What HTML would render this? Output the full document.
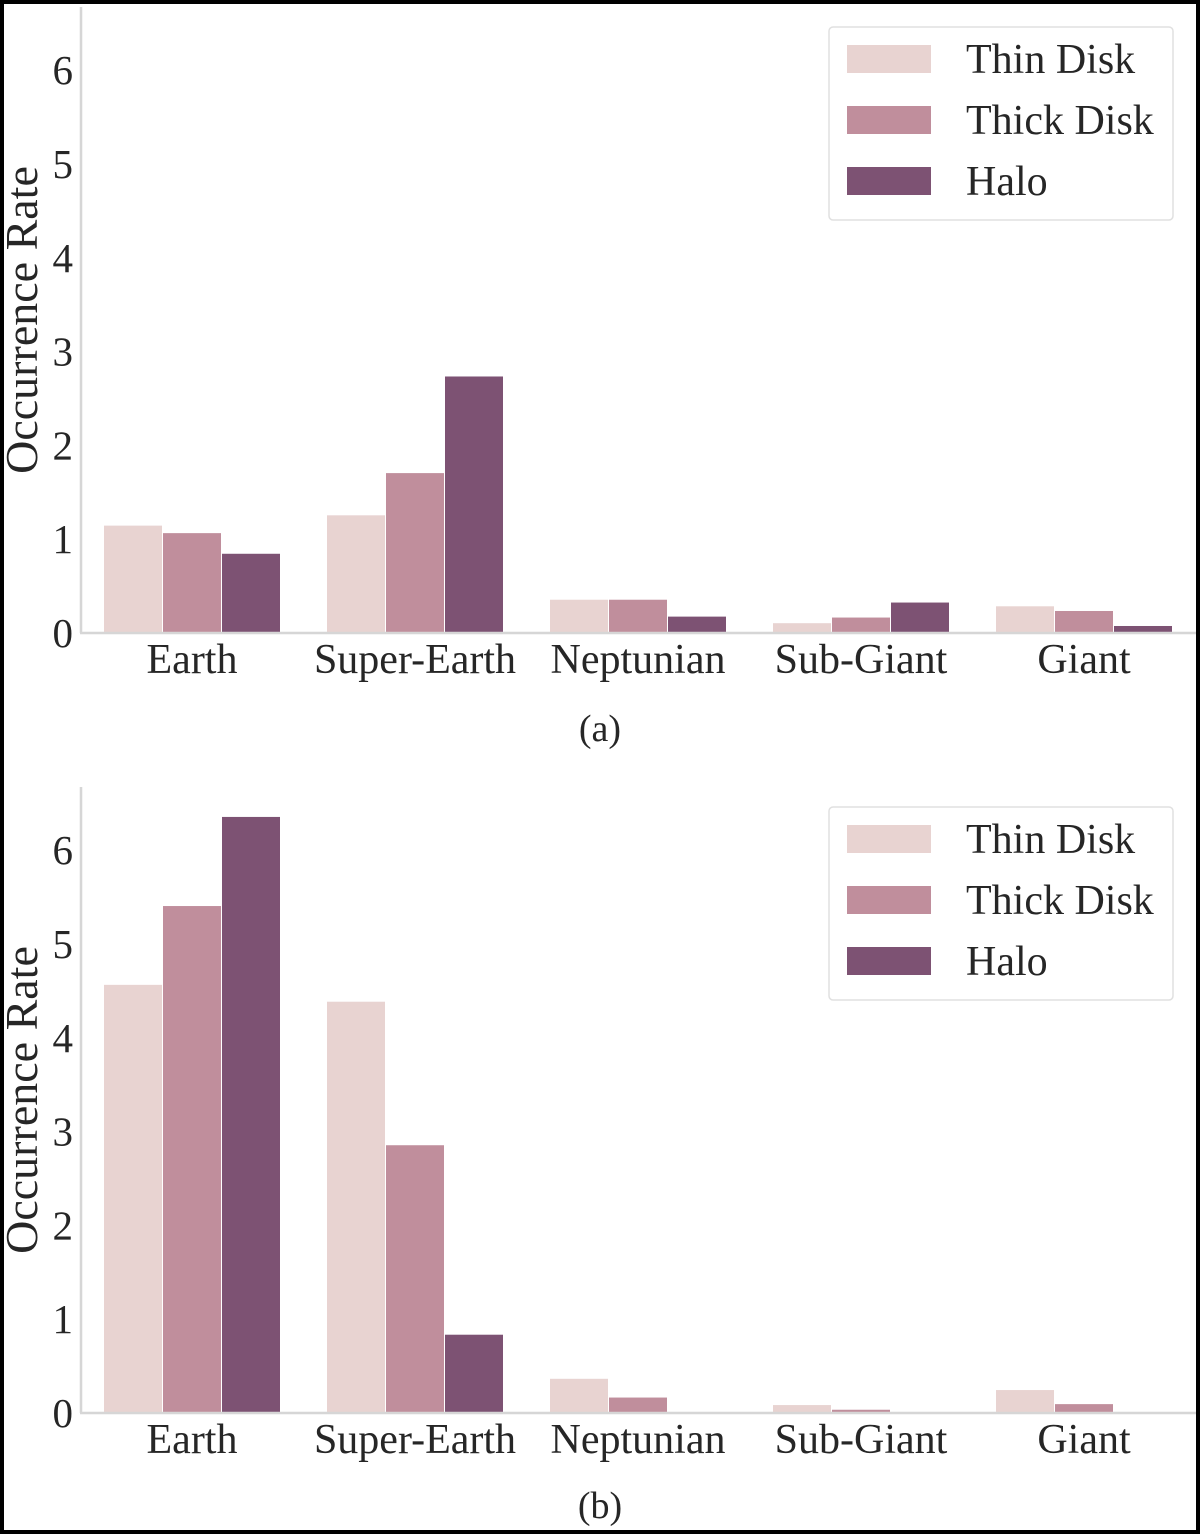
<!DOCTYPE html>
<html><head><meta charset="utf-8"><style>
html,body{margin:0;padding:0;background:#fff}
svg{display:block}
text{font-family:"Liberation Serif",serif;fill:#262626}
</style></head><body>
<svg id="chart" width="1200" height="1534" viewBox="0 0 1200 1534" xmlns="http://www.w3.org/2000/svg">
<rect x="2" y="2" width="1196" height="1530" fill="#fff" stroke="#000" stroke-width="4"/>
</svg>
<script>
const categories = ["Earth","Super-Earth","Neptunian","Sub-Giant","Giant"];
const seriesNames = ["Thin Disk","Thick Disk","Halo"];
const yTicks = [0,1,2,3,4,5,6];
const panelAThin = [1.15,1.26,0.36,0.11,0.29];
const panelAThick = [1.07,1.71,0.36,0.17,0.24];
const panelAHalo = [0.85,2.74,0.18,0.33,0.08];
const panelBThin = [4.57,4.39,0.37,0.09,0.25];
const panelBThick = [5.41,2.86,0.17,0.04,0.10];
const panelBHalo = [6.36,0.84,0,0,0];
const colors = ["#e8d3d1","#c08e9c","#7d5273"];
const NS = "http://www.w3.org/2000/svg";
const svg = document.getElementById('chart');
function mk(tag, attrs, parent){const e=document.createElementNS(NS,tag);for(const k in attrs)e.setAttribute(k,attrs[k]);(parent||svg).appendChild(e);return e;}
function panel(id, y0, top, series, caption, capY){
  const g = mk('g',{});
  
  
  const unit = 93.8;
  const yScale = v => y0 - v*unit;
  const xCenter = i => 192 + i*223;
  const bw = 59;
  yTicks.forEach(t=>{
    const tx = mk('text',{x:73,y:yScale(t)+14,'font-size':41,'text-anchor':'end'},g);
    tx.textContent = t;
    
    
  });
  const yt = mk('text',{x:0,y:0,'font-size':46,'text-anchor':'middle',transform:`translate(37,${y0-313}) rotate(-90)`},g);
  yt.textContent = "Occurrence Rate";
  
  
  series.forEach((arr,s)=>{
    arr.forEach((v,i)=>{
      if(v<=0) return;
      const x = xCenter(i) - 1.5*bw + s*bw;
      const r = mk('rect',{x:x,y:yScale(v),width:bw,height:v*unit,fill:colors[s],stroke:'#fff','stroke-width':1},g);
      
      
    });
  });
  const sp1 = mk('line',{x1:81,y1:top,x2:81,y2:y0,stroke:'#d6d6d6','stroke-width':2.5},g);
  
  
  const sp2 = mk('line',{x1:80,y1:y0,x2:1196,y2:y0,stroke:'#d6d6d6','stroke-width':2.5},g);
  
  
  categories.forEach((c,i)=>{
    const t = mk('text',{x:xCenter(i),y:y0+40,'font-size':42,'text-anchor':'middle'},g);
    t.textContent = c;
    
    
  });
  const ly = top + 20;
  const lb = mk('rect',{x:829,y:ly,width:344,height:193,rx:4,fill:'#fff',stroke:'#e0e0e0','stroke-width':1.5},g);
  
  
  seriesNames.forEach((n,s)=>{
    const cy = ly + 32 + s*61;
    const sw = mk('rect',{x:847,y:cy-14,width:84,height:28,fill:colors[s]},g);
    
    
    const lt = mk('text',{x:966,y:cy+14,'font-size':42},g);
    lt.textContent = n;
    
    
  });
  const cp = mk('text',{x:600,y:capY,'font-size':38,'text-anchor':'middle'},g);
  cp.textContent = caption;
  
  
}
panel('a', 633, 7, [panelAThin,panelAThick,panelAHalo], "(a)", 741);
panel('b', 1413, 787, [panelBThin,panelBThick,panelBHalo], "(b)", 1518);
</script>
</body></html>
